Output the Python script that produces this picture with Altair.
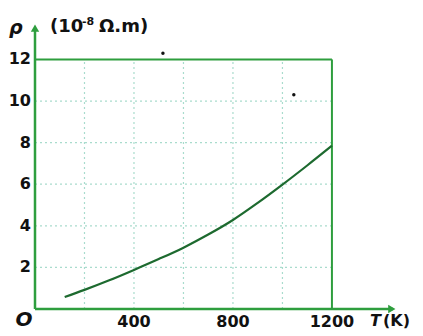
import altair as alt
import pandas as pd

# Data
T_curve = [120, 200, 300, 400, 500, 600, 700, 800, 900, 1000, 1100, 1200]
rho_curve = [0.58, 0.92, 1.38, 1.88, 2.4, 2.95, 3.58, 4.28, 5.1, 5.98, 6.9, 7.85]

grid_T = [200, 400, 600, 800, 1000]
grid_rho = [2, 4, 6, 8, 10]
x_ticks = [400, 800, 1200]
y_ticks = [2, 4, 6, 8, 10, 12]
speck_T = [517, 1046]
speck_rho = [12.3, 10.3]

X_MAX = 1467
Y_MAX = 13.8
FRAME_T = 1200
FRAME_RHO = 12

GREEN = "#2e9e3e"
GRID = "#a9dccd"
CURVE = "#1d6a2f"
FONT = "DejaVu Sans"

xs = dict(domain=[0, X_MAX], nice=False, zero=False)
ys = dict(domain=[0, Y_MAX], nice=False, zero=False)


def X(f):
    return alt.X(f, type="quantitative", scale=alt.Scale(**xs), axis=None)


def Y(f):
    return alt.Y(f, type="quantitative", scale=alt.Scale(**ys), axis=None)


curve_df = pd.DataFrame({"T": T_curve, "rho": rho_curve})
vgrid = pd.DataFrame({"T": grid_T, "r0": 0, "r1": FRAME_RHO})
hgrid = pd.DataFrame({"rho": grid_rho, "t0": 0, "t1": FRAME_T})
frame_h = pd.DataFrame({"rho": [FRAME_RHO], "t0": [0], "t1": [FRAME_T]})
frame_v = pd.DataFrame({"T": [FRAME_T], "r0": [0], "r1": [FRAME_RHO]})
xaxis_df = pd.DataFrame({"rho": [0], "t0": [0], "t1": [X_MAX - 20]})
yaxis_df = pd.DataFrame({"T": [0], "r0": [0], "r1": [Y_MAX - 0.3]})
xarrow_df = pd.DataFrame({"T": [X_MAX - 25], "rho": [0]})
yarrow_df = pd.DataFrame({"T": [0], "rho": [Y_MAX - 0.3]})
xt = pd.DataFrame({"T": x_ticks, "rho": 0, "lab": [str(v) for v in x_ticks]})
yt = pd.DataFrame({"rho": y_ticks, "T": 0, "lab": [str(v) for v in y_ticks]})
specks = pd.DataFrame({"T": speck_T, "rho": speck_rho})

vg = alt.Chart(vgrid).mark_rule(color=GRID, strokeDash=[2, 3], strokeWidth=1.2).encode(
    x=X("T"), y=Y("r0"), y2="r1")
hg = alt.Chart(hgrid).mark_rule(color=GRID, strokeDash=[2, 3], strokeWidth=1.2).encode(
    y=Y("rho"), x=X("t0"), x2="t1")
top = alt.Chart(frame_h).mark_rule(color=GREEN, strokeWidth=2).encode(
    y=Y("rho"), x=X("t0"), x2="t1")
right = alt.Chart(frame_v).mark_rule(color=GREEN, strokeWidth=2).encode(
    x=X("T"), y=Y("r0"), y2="r1")
xaxis = alt.Chart(xaxis_df).mark_rule(color=GREEN, strokeWidth=2.5).encode(
    y=Y("rho"), x=X("t0"), x2="t1")
yaxis = alt.Chart(yaxis_df).mark_rule(color=GREEN, strokeWidth=2.5).encode(
    x=X("T"), y=Y("r0"), y2="r1")
xarrow = alt.Chart(xarrow_df).mark_point(shape="triangle-right", filled=True, color=GREEN,
                                         size=70, opacity=1).encode(x=X("T"), y=Y("rho"))
yarrow = alt.Chart(yarrow_df).mark_point(shape="triangle-up", filled=True, color=GREEN,
                                         size=70, opacity=1).encode(x=X("T"), y=Y("rho"))

line = alt.Chart(curve_df).mark_line(color=CURVE, strokeWidth=2.2, interpolate="monotone").encode(
    x=X("T"), y=Y("rho"))

sp = alt.Chart(specks).mark_circle(color="#111", size=12, opacity=1).encode(x=X("T"), y=Y("rho"))

xlab = alt.Chart(xt).mark_text(font=FONT, fontSize=16, fontWeight="bold", color="#111",
                               align="center", baseline="middle", dy=13).encode(
    x=X("T"), y=Y("rho"), text="lab:N")
ylab = alt.Chart(yt).mark_text(font=FONT, fontSize=16, fontWeight="bold", color="#111",
                               align="right", baseline="middle", dx=-4).encode(
    y=Y("rho"), x=X("T"), text="lab:N")

labels_df = pd.DataFrame({
    "s": ["O", "ρ", "(10", "-8", "Ω.m)", "T", "(K)"],
    "px": [-11, -26, 15, 47, 64, 335, 348],
    "py": [298, 6, 5, 0, 5, 299, 299],
})


def txt(i, align="left", style="normal", size=17):
    return alt.Chart(labels_df.iloc[[i]]).mark_text(
        font=FONT, fontSize=size, fontWeight="bold", fontStyle=style, color="#111",
        align=align, baseline="middle").encode(
        x=alt.X("px:Q", scale=None), y=alt.Y("py:Q", scale=None), text="s:N")


o_lab = txt(0, align="center", style="italic", size=20)
rho_lab = txt(1, style="italic", size=19)
u1 = txt(2, size=18)
u2 = txt(3, size=11)
u3 = txt(4, size=18)
t_lab = txt(5, style="italic", size=16)
k_lab = txt(6, size=16)

chart = alt.layer(vg, hg, top, right, line, sp, xaxis, yaxis, xarrow, yarrow,
                  xlab, ylab, o_lab, rho_lab, u1, u2, u3, t_lab, k_lab).properties(
    width=363, height=287,
    autosize=alt.AutoSizeParams(type="none"),
    padding={"left": 27, "top": 14, "right": 17, "bottom": 26},
).configure_view(stroke=None)

chart.save("out.html", embed_options={"renderer": "svg", "actions": False})
